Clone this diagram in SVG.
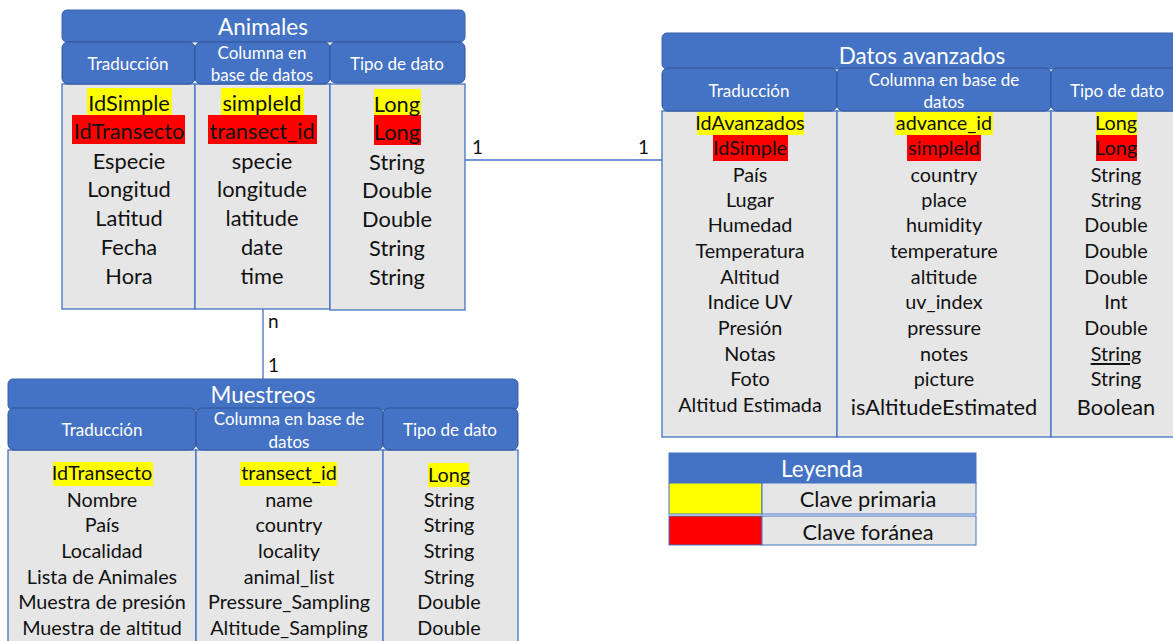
<svg xmlns="http://www.w3.org/2000/svg" width="1173" height="641" viewBox="0 0 1173 641">
  <style>
    .title { fill: #4472c4; stroke: #3a63ad; stroke-width: 1; }
    .head { fill: #4472c4; stroke: #2f5597; stroke-width: 1; }
    .body { fill: #e6e6e6; stroke: #4472c4; stroke-width: 1.3; }
    .t { font-family: Lato, "Liberation Sans", sans-serif; text-anchor: middle; dominant-baseline: central; }
    .tt { fill: #ffffff; font-size: 22.5px; }
    .th { fill: #ffffff; font-size: 17px; }
    .big { fill: #111111; font-size: 21.8px; }
    .mid { fill: #111111; font-size: 19.8px; }
    .pk { fill: #ffff00; }
    .fk { fill: #ff0000; }
    .conn { stroke: #4472c4; stroke-width: 1.3; fill: none; }
    .lbl { font-family: Lato, "Liberation Sans", sans-serif; font-size: 19px; fill: #111111; }
  </style>

  <!-- relationship lines -->
  <g id="connectors">
    <line class="conn" x1="465" y1="160" x2="662" y2="160"/>
    <line class="conn" x1="263" y1="309" x2="263" y2="380"/>
    <text class="lbl" x="472" y="154">1</text>
    <text class="lbl" x="638" y="154">1</text>
    <text class="lbl" x="268" y="328">n</text>
    <text class="lbl" x="268" y="372">1</text>
  </g>

  <!-- Animales table -->
  <g id="animales">
    <rect class="body" x="62" y="84" width="133" height="225"/>
    <rect class="body" x="195" y="84" width="135" height="225"/>
    <rect class="body" x="330" y="84" width="135" height="226"/>
    <rect class="title" x="62" y="10" width="403" height="32" rx="5"/>
    <rect class="head" x="62" y="42" width="133" height="42" rx="6"/>
    <rect class="head" x="195" y="42" width="135" height="42" rx="6"/>
    <rect class="head" x="330" y="42" width="135" height="41" rx="6"/>
    <text class="t tt" x="263" y="26">Animales</text>
    <text class="t th" x="128" y="63">Traducción</text>
    <text class="t th" x="262" y="52">Columna en</text>
    <text class="t th" x="262" y="74">base de datos</text>
    <text class="t th" x="397" y="63">Tipo de dato</text>

    <rect class="pk" x="87" y="88" width="85" height="27"/>
    <rect class="fk" x="72" y="115" width="113" height="29"/>
    <rect class="pk" x="221" y="88" width="83" height="27"/>
    <rect class="fk" x="208" y="115" width="109" height="29"/>
    <rect class="pk" x="374" y="89" width="47" height="26"/>
    <rect class="fk" x="374" y="115" width="47" height="30"/>

    <g class="t big">
      <text x="129" y="102">IdSimple</text>
      <text x="129" y="130">IdTransecto</text>
      <text x="129" y="160">Especie</text>
      <text x="129" y="188">Longitud</text>
      <text x="129" y="217">Latitud</text>
      <text x="129" y="246">Fecha</text>
      <text x="129" y="275">Hora</text>
      <text x="262" y="102">simpleId</text>
      <text x="262" y="130">transect_id</text>
      <text x="262" y="160">specie</text>
      <text x="262" y="188">longitude</text>
      <text x="262" y="217">latitude</text>
      <text x="262" y="246">date</text>
      <text x="262" y="275">time</text>
      <text x="397" y="103">Long</text>
      <text x="397" y="131">Long</text>
      <text x="397" y="161">String</text>
      <text x="397" y="189">Double</text>
      <text x="397" y="218">Double</text>
      <text x="397" y="247">String</text>
      <text x="397" y="276">String</text>
    </g>
  </g>

  <!-- Datos avanzados table -->
  <g id="datos-avanzados">
    <rect class="body" x="662" y="111" width="175" height="326"/>
    <rect class="body" x="837" y="111" width="214" height="326"/>
    <rect class="body" x="1051" y="111" width="130" height="326"/>
    <rect class="title" x="662" y="33" width="520" height="36" rx="5"/>
    <rect class="head" x="662" y="68" width="175" height="43" rx="6"/>
    <rect class="head" x="837" y="68" width="214" height="43" rx="6"/>
    <rect class="head" x="1051" y="68" width="130" height="43" rx="6"/>
    <text class="t tt" x="922" y="55">Datos avanzados</text>
    <text class="t th" x="749" y="90">Traducción</text>
    <text class="t th" x="944" y="79">Columna en base de</text>
    <text class="t th" x="944" y="101">datos</text>
    <text class="t th" x="1117" y="90">Tipo de dato</text>

    <rect class="pk" x="697" y="112" width="107" height="23"/>
    <rect class="fk" x="713" y="135" width="75" height="26"/>
    <rect class="pk" x="895" y="112" width="98" height="23"/>
    <rect class="fk" x="907" y="135" width="74" height="26"/>
    <rect class="pk" x="1096" y="112" width="41" height="23"/>
    <rect class="fk" x="1096" y="135" width="41" height="26"/>

    <g class="t mid">
      <text x="750" y="122">IdAvanzados</text>
      <text x="750" y="147">IdSimple</text>
      <text x="750" y="174">País</text>
      <text x="750" y="199">Lugar</text>
      <text x="750" y="224">Humedad</text>
      <text x="750" y="250">Temperatura</text>
      <text x="750" y="276">Altitud</text>
      <text x="750" y="301">Indice UV</text>
      <text x="750" y="327">Presión</text>
      <text x="750" y="353">Notas</text>
      <text x="750" y="378">Foto</text>
      <text x="750" y="404">Altitud Estimada</text>
      <text x="944" y="122">advance_id</text>
      <text x="944" y="147">simpleId</text>
      <text x="944" y="174">country</text>
      <text x="944" y="199">place</text>
      <text x="944" y="224">humidity</text>
      <text x="944" y="250">temperature</text>
      <text x="944" y="276">altitude</text>
      <text x="944" y="301">uv_index</text>
      <text x="944" y="327">pressure</text>
      <text x="944" y="353">notes</text>
      <text x="944" y="378">picture</text>
      <text x="1116" y="122">Long</text>
      <text x="1116" y="147">Long</text>
      <text x="1116" y="174">String</text>
      <text x="1116" y="199">String</text>
      <text x="1116" y="224">Double</text>
      <text x="1116" y="250">Double</text>
      <text x="1116" y="276">Double</text>
      <text x="1116" y="301">Int</text>
      <text x="1116" y="327">Double</text>
      <text x="1116" y="353" text-decoration="underline">String</text>
      <text x="1116" y="378">String</text>
    </g>
    <text class="t big" x="944" y="406">isAltitudeEstimated</text>
    <text class="t big" x="1116" y="406">Boolean</text>
  </g>

  <!-- Muestreos table -->
  <g id="muestreos">
    <rect class="body" x="8" y="450" width="188" height="200"/>
    <rect class="body" x="196" y="450" width="187" height="200"/>
    <rect class="body" x="383" y="450" width="135" height="200"/>
    <rect class="title" x="8" y="379" width="510" height="31" rx="5"/>
    <rect class="head" x="8" y="408" width="188" height="42" rx="6"/>
    <rect class="head" x="196" y="408" width="187" height="42" rx="6"/>
    <rect class="head" x="383" y="408" width="135" height="42" rx="6"/>
    <text class="t tt" x="263" y="394">Muestreos</text>
    <text class="t th" x="102" y="429">Traducción</text>
    <text class="t th" x="289" y="418">Columna en base de</text>
    <text class="t th" x="289" y="441">datos</text>
    <text class="t th" x="450" y="429">Tipo de dato</text>

    <rect class="pk" x="53" y="462" width="100" height="24"/>
    <rect class="pk" x="240" y="462" width="97" height="24"/>
    <rect class="pk" x="428" y="463" width="41" height="24"/>

    <g class="t mid">
      <text x="102" y="472">IdTransecto</text>
      <text x="102" y="499">Nombre</text>
      <text x="102" y="524">País</text>
      <text x="102" y="550">Localidad</text>
      <text x="102" y="576">Lista de Animales</text>
      <text x="102" y="601">Muestra de presión</text>
      <text x="102" y="627">Muestra de altitud</text>
      <text x="289" y="472">transect_id</text>
      <text x="289" y="499">name</text>
      <text x="289" y="524">country</text>
      <text x="289" y="550">locality</text>
      <text x="289" y="576">animal_list</text>
      <text x="289" y="601">Pressure_Sampling</text>
      <text x="289" y="627">Altitude_Sampling</text>
      <text x="449" y="474">Long</text>
      <text x="449" y="499">String</text>
      <text x="449" y="524">String</text>
      <text x="449" y="550">String</text>
      <text x="449" y="576">String</text>
      <text x="449" y="601">Double</text>
      <text x="449" y="627">Double</text>
    </g>
  </g>

  <!-- Legend -->
  <g id="leyenda">
    <rect x="669" y="453" width="307" height="30" fill="#4472c4" stroke="#4472c4"/>
    <rect x="669" y="483" width="93" height="31" fill="#ffff00" stroke="#4472c4" stroke-width="1"/>
    <rect x="762" y="483" width="214" height="31" fill="#e6e6e6" stroke="#4472c4" stroke-width="1"/>
    <rect x="669" y="516" width="93" height="29" fill="#ff0000" stroke="#4472c4" stroke-width="1"/>
    <rect x="762" y="516" width="214" height="29" fill="#e6e6e6" stroke="#4472c4" stroke-width="1"/>
    <text class="t tt" x="822" y="468" font-size="21">Leyenda</text>
    <text class="t big" x="868" y="498" font-size="21">Clave primaria</text>
    <text class="t big" x="868" y="531" font-size="21">Clave foránea</text>
  </g>
</svg>
